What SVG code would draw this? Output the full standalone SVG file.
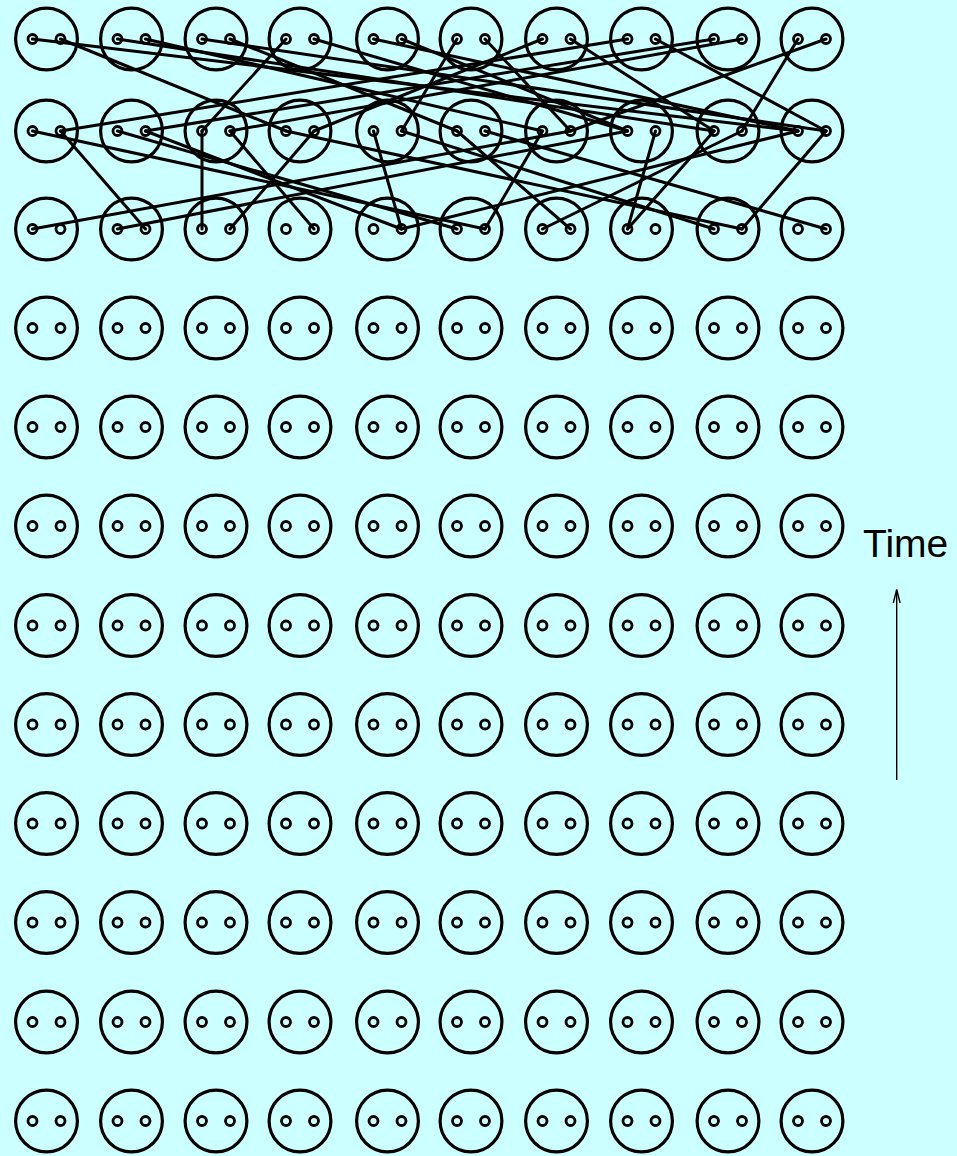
<svg xmlns="http://www.w3.org/2000/svg" width="957" height="1156" viewBox="0 0 957 1156">
<defs>
<style>
.ring{fill:none;stroke:#000;stroke-width:3.2}
.dot{fill:none;stroke:#000;stroke-width:2.8}
.lk{stroke:#000;stroke-width:3;stroke-linecap:round}
</style>
<g id="node"><circle class="ring" cx="0" cy="0" r="30.9"/><circle class="dot" cx="-14" cy="0" r="4.5"/><circle class="dot" cx="14" cy="0" r="4.5"/></g>
</defs>
<rect width="957" height="1156" fill="#ccffff"/>
<g id="links" class="lk">
<line x1="32.5" y1="39" x2="798" y2="131"/>
<line x1="60.5" y1="39" x2="286" y2="131"/>
<line x1="117.5" y1="39" x2="714" y2="131"/>
<line x1="145.5" y1="39" x2="542.5" y2="131"/>
<line x1="202" y1="39" x2="826" y2="131"/>
<line x1="230" y1="39" x2="457" y2="131"/>
<line x1="286" y1="39" x2="202" y2="131"/>
<line x1="314" y1="39" x2="627.5" y2="131"/>
<line x1="373.5" y1="39" x2="798" y2="131"/>
<line x1="401.5" y1="39" x2="627.5" y2="131"/>
<line x1="457" y1="39" x2="401.5" y2="131"/>
<line x1="485" y1="39" x2="570.5" y2="131"/>
<line x1="542.5" y1="39" x2="314" y2="131"/>
<line x1="570.5" y1="39" x2="714" y2="131"/>
<line x1="627.5" y1="39" x2="60.5" y2="131"/>
<line x1="655.5" y1="39" x2="826" y2="131"/>
<line x1="714" y1="39" x2="145.5" y2="131"/>
<line x1="742" y1="39" x2="230" y2="131"/>
<line x1="798" y1="39" x2="742" y2="131"/>
<line x1="826" y1="39" x2="570.5" y2="131"/>
<line x1="32.5" y1="131" x2="485" y2="229"/>
<line x1="60.5" y1="131" x2="145.5" y2="229"/>
<line x1="117.5" y1="131" x2="457" y2="229"/>
<line x1="145.5" y1="131" x2="401.5" y2="229"/>
<line x1="202" y1="131" x2="202" y2="229"/>
<line x1="230" y1="131" x2="314" y2="229"/>
<line x1="286" y1="131" x2="742" y2="229"/>
<line x1="314" y1="131" x2="230" y2="229"/>
<line x1="373.5" y1="131" x2="401.5" y2="229"/>
<line x1="401.5" y1="131" x2="714" y2="229"/>
<line x1="457" y1="131" x2="570.5" y2="229"/>
<line x1="485" y1="131" x2="826" y2="229"/>
<line x1="542.5" y1="131" x2="485" y2="229"/>
<line x1="570.5" y1="131" x2="32.5" y2="229"/>
<line x1="627.5" y1="131" x2="117.5" y2="229"/>
<line x1="655.5" y1="131" x2="627.5" y2="229"/>
<line x1="714" y1="131" x2="627.5" y2="229"/>
<line x1="742" y1="131" x2="542.5" y2="229"/>
<line x1="798" y1="131" x2="401.5" y2="229"/>
<line x1="826" y1="131" x2="742" y2="229"/>
</g>
<g id="nodes">
<g id="r1"><use href="#node" x="46.5" y="39"/><use href="#node" x="131.5" y="39"/><use href="#node" x="216" y="39"/><use href="#node" x="300" y="39"/><use href="#node" x="387.5" y="39"/><use href="#node" x="471" y="39"/><use href="#node" x="556.5" y="39"/><use href="#node" x="641.5" y="39"/><use href="#node" x="728" y="39"/><use href="#node" x="812" y="39"/></g>
<g id="r2"><use href="#node" x="46.5" y="131"/><use href="#node" x="131.5" y="131"/><use href="#node" x="216" y="131"/><use href="#node" x="300" y="131"/><use href="#node" x="387.5" y="131"/><use href="#node" x="471" y="131"/><use href="#node" x="556.5" y="131"/><use href="#node" x="641.5" y="131"/><use href="#node" x="728" y="131"/><use href="#node" x="812" y="131"/></g>
<g id="r3"><use href="#node" x="46.5" y="229"/><use href="#node" x="131.5" y="229"/><use href="#node" x="216" y="229"/><use href="#node" x="300" y="229"/><use href="#node" x="387.5" y="229"/><use href="#node" x="471" y="229"/><use href="#node" x="556.5" y="229"/><use href="#node" x="641.5" y="229"/><use href="#node" x="728" y="229"/><use href="#node" x="812" y="229"/></g>
<g id="r4"><use href="#node" x="46.5" y="328"/><use href="#node" x="131.5" y="328"/><use href="#node" x="216" y="328"/><use href="#node" x="300" y="328"/><use href="#node" x="387.5" y="328"/><use href="#node" x="471" y="328"/><use href="#node" x="556.5" y="328"/><use href="#node" x="641.5" y="328"/><use href="#node" x="728" y="328"/><use href="#node" x="812" y="328"/></g>
<g id="r5"><use href="#node" x="46.5" y="427"/><use href="#node" x="131.5" y="427"/><use href="#node" x="216" y="427"/><use href="#node" x="300" y="427"/><use href="#node" x="387.5" y="427"/><use href="#node" x="471" y="427"/><use href="#node" x="556.5" y="427"/><use href="#node" x="641.5" y="427"/><use href="#node" x="728" y="427"/><use href="#node" x="812" y="427"/></g>
<g id="r6"><use href="#node" x="46.5" y="526"/><use href="#node" x="131.5" y="526"/><use href="#node" x="216" y="526"/><use href="#node" x="300" y="526"/><use href="#node" x="387.5" y="526"/><use href="#node" x="471" y="526"/><use href="#node" x="556.5" y="526"/><use href="#node" x="641.5" y="526"/><use href="#node" x="728" y="526"/><use href="#node" x="812" y="526"/></g>
<g id="r7"><use href="#node" x="46.5" y="625.5"/><use href="#node" x="131.5" y="625.5"/><use href="#node" x="216" y="625.5"/><use href="#node" x="300" y="625.5"/><use href="#node" x="387.5" y="625.5"/><use href="#node" x="471" y="625.5"/><use href="#node" x="556.5" y="625.5"/><use href="#node" x="641.5" y="625.5"/><use href="#node" x="728" y="625.5"/><use href="#node" x="812" y="625.5"/></g>
<g id="r8"><use href="#node" x="46.5" y="724.5"/><use href="#node" x="131.5" y="724.5"/><use href="#node" x="216" y="724.5"/><use href="#node" x="300" y="724.5"/><use href="#node" x="387.5" y="724.5"/><use href="#node" x="471" y="724.5"/><use href="#node" x="556.5" y="724.5"/><use href="#node" x="641.5" y="724.5"/><use href="#node" x="728" y="724.5"/><use href="#node" x="812" y="724.5"/></g>
<g id="r9"><use href="#node" x="46.5" y="823.5"/><use href="#node" x="131.5" y="823.5"/><use href="#node" x="216" y="823.5"/><use href="#node" x="300" y="823.5"/><use href="#node" x="387.5" y="823.5"/><use href="#node" x="471" y="823.5"/><use href="#node" x="556.5" y="823.5"/><use href="#node" x="641.5" y="823.5"/><use href="#node" x="728" y="823.5"/><use href="#node" x="812" y="823.5"/></g>
<g id="r10"><use href="#node" x="46.5" y="922.5"/><use href="#node" x="131.5" y="922.5"/><use href="#node" x="216" y="922.5"/><use href="#node" x="300" y="922.5"/><use href="#node" x="387.5" y="922.5"/><use href="#node" x="471" y="922.5"/><use href="#node" x="556.5" y="922.5"/><use href="#node" x="641.5" y="922.5"/><use href="#node" x="728" y="922.5"/><use href="#node" x="812" y="922.5"/></g>
<g id="r11"><use href="#node" x="46.5" y="1022"/><use href="#node" x="131.5" y="1022"/><use href="#node" x="216" y="1022"/><use href="#node" x="300" y="1022"/><use href="#node" x="387.5" y="1022"/><use href="#node" x="471" y="1022"/><use href="#node" x="556.5" y="1022"/><use href="#node" x="641.5" y="1022"/><use href="#node" x="728" y="1022"/><use href="#node" x="812" y="1022"/></g>
<g id="r12"><use href="#node" x="46.5" y="1121"/><use href="#node" x="131.5" y="1121"/><use href="#node" x="216" y="1121"/><use href="#node" x="300" y="1121"/><use href="#node" x="387.5" y="1121"/><use href="#node" x="471" y="1121"/><use href="#node" x="556.5" y="1121"/><use href="#node" x="641.5" y="1121"/><use href="#node" x="728" y="1121"/><use href="#node" x="812" y="1121"/></g>
</g>
<g id="time">
<text x="863" y="557" font-family="Liberation Sans, Arial, sans-serif" font-size="39" fill="#000">Time</text>
<line x1="896.7" y1="780" x2="896.7" y2="590" stroke="#000" stroke-width="1.4"/>
<polyline points="893.3,603 896.7,589.5 900.1,603" fill="none" stroke="#000" stroke-width="1.4"/>
</g>
</svg>
